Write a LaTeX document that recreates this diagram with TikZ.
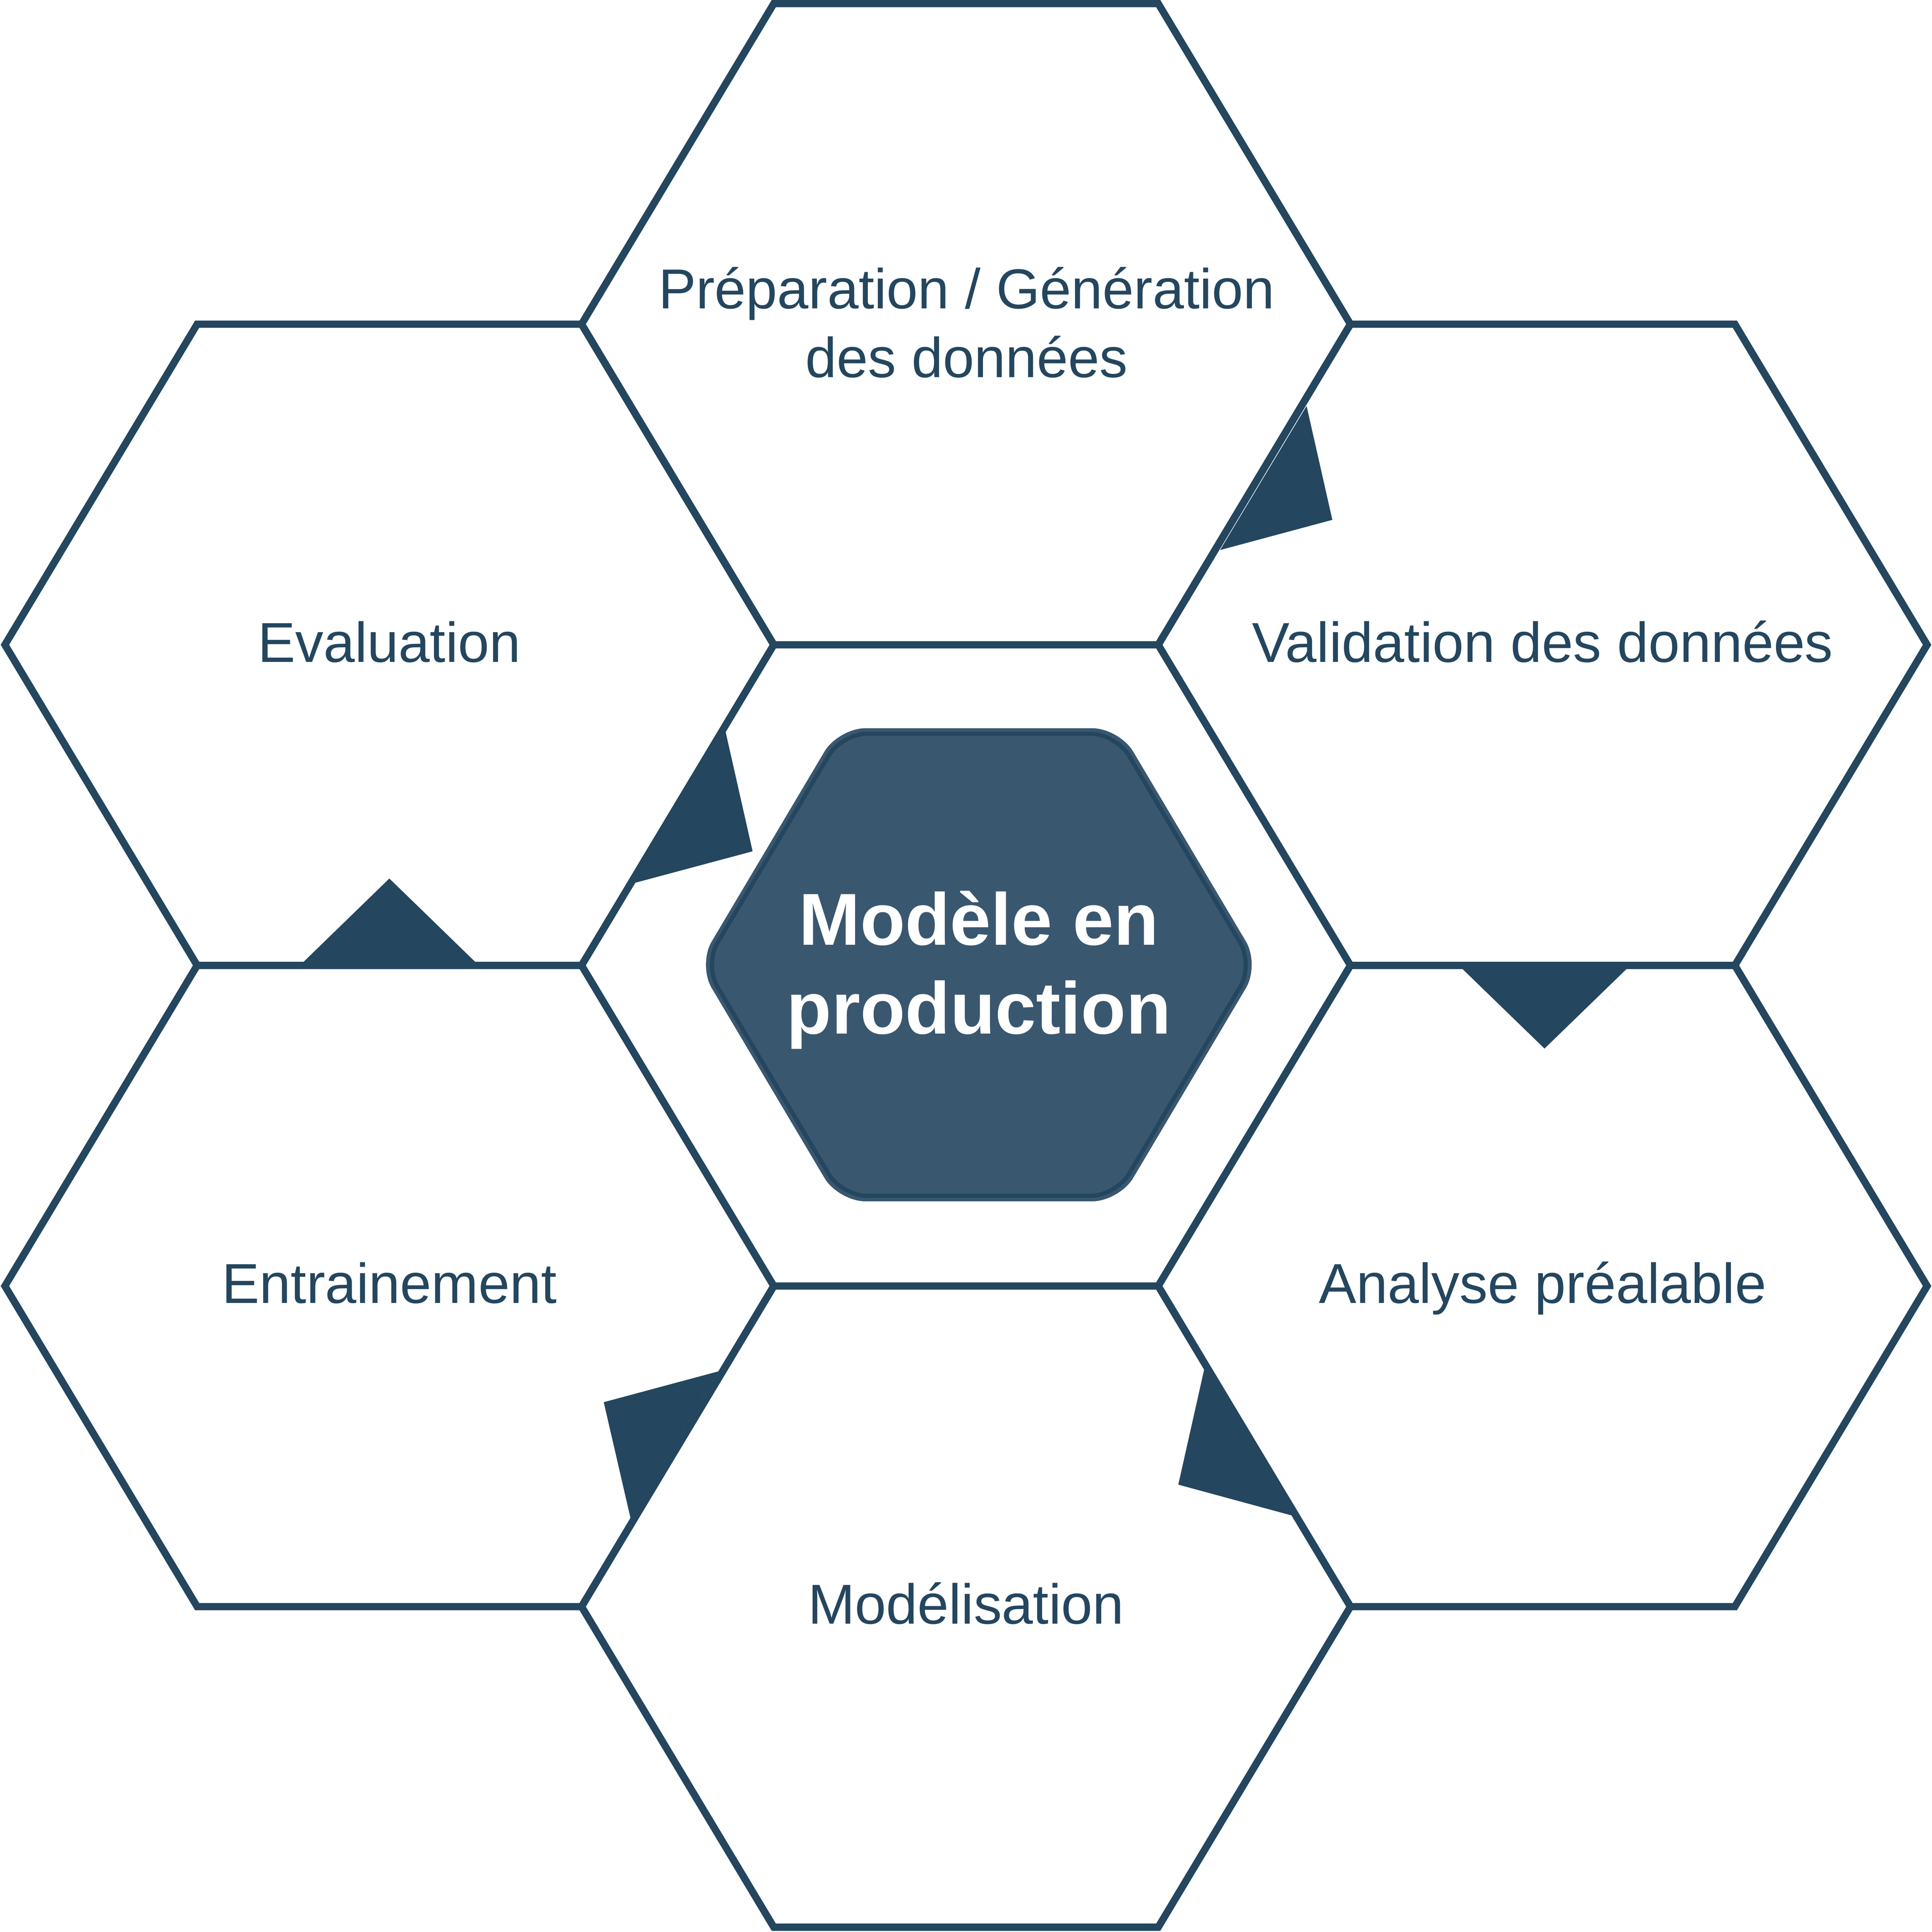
\documentclass[tikz,border=0pt]{standalone}
\usepackage{fontspec}
\setmainfont{Liberation Sans}
\definecolor{hexcol}{HTML}{24465F}
\definecolor{corefill}{HTML}{3A5770}
\tikzset{
  hexline/.style={draw=hexcol, line width=3.35pt, line join=miter},
  flowtip/.style={fill=hexcol},
  lbl/.style={anchor=base, text=hexcol, inner sep=0pt, font=\fontsize{26}{31.7}\selectfont},
  corelbl/.style={anchor=base, text=white, inner sep=0pt, font=\bfseries\fontsize{34}{41}\selectfont},
  hexagon/.pic={\path[hexline] (-312,0) -- (-156,-260.2) -- (156,-260.2) -- (312,0) -- (156,260.2) -- (-156,260.2) -- cycle;}
}
\begin{document}
\begin{tikzpicture}[x=0.02cm,y=-0.02cm]
\useasboundingbox (0,0) rectangle (1568,1568);
% hexagon centres
\coordinate (cPrep)    at (784,263.1);
\coordinate (cEval)    at (316,523.3);
\coordinate (cValid)   at (1252,523.3);
\coordinate (cEntrain) at (316,1043.7);
\coordinate (cAnalyse) at (1252,1043.7);
\coordinate (cModel)   at (784,1303.9);
% outer hexagons
\pic at (cPrep) {hexagon};
\pic at (cEval) {hexagon};
\pic at (cValid) {hexagon};
\pic at (cEntrain) {hexagon};
\pic at (cAnalyse) {hexagon};
\pic at (cModel) {hexagon};
% central hexagon
\fill[corefill, rounded corners=0.44cm] (566.4,783) -- (680.4,591) -- (908.4,591) -- (1022.4,783) -- (908.4,975) -- (680.4,975) -- cycle;
\draw[draw=hexcol, line width=1.93pt, rounded corners=0.41cm] (571.7,783) -- (683.1,595.5) -- (905.7,595.5) -- (1017.1,783) -- (905.7,970.5) -- (683.1,970.5) -- cycle;
% flow markers
\fill[flowtip] (1060.4,329.5) -- (1081.3,421.9) -- (990.2,446.4) -- cycle;
\fill[flowtip] (1186,785.5) -- (1321,785.5) -- (1253.5,851) -- cycle;
\fill[flowtip] (977.5,1110.5) -- (956.3,1204.9) -- (1049.4,1230.2) -- cycle;
\fill[flowtip] (583,1113) -- (490,1138) -- (511.7,1232) -- cycle;
\fill[flowtip] (246,781) -- (386,781) -- (316,713) -- cycle;
\fill[flowtip] (588.8,593.6) -- (610.8,690.9) -- (514.9,716.6) -- cycle;
% labels
\node[lbl] (prep) at (784.5,250.5) {\begin{tabular}[t]{@{}c@{}}Préparation / Génération\\des données\end{tabular}};
\node[lbl] (eval) at (316,537.3) {Evaluation};
\node[lbl] (valid) at (1252,537.3) {Validation des données};
\node[lbl] (entrain) at (316,1057.7) {Entrainement};
\node[lbl] (analyse) at (1252,1057.7) {Analyse préalable};
\node[lbl] (model) at (784,1317.9) {Modélisation};
\node[corelbl] (core) at (794.4,767) {\begin{tabular}[t]{@{}c@{}}Modèle en\\production\end{tabular}};
\end{tikzpicture}
\end{document}
